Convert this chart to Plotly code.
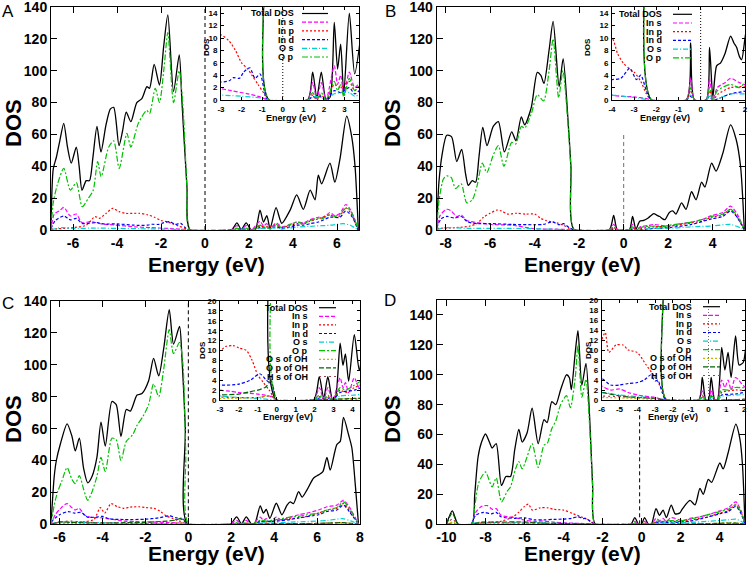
import plotly.graph_objects as go

W, H = 751, 569

# ---------------- data (energy eV, DOS) ----------------
A_total = [(-7.0,0),(-6.9,38),(-6.75,46),(-6.6,56),(-6.42,67),(-6.25,52),(-6.08,42),(-5.85,52),(-5.72,40),(-5.59,25),(-5.4,31),(-5.25,31),(-5.1,45),(-4.91,65),(-4.73,49),(-4.5,66),(-4.3,76),(-4.15,77),(-3.91,53),(-3.75,62),(-3.58,74),(-3.37,68),(-3.1,80),(-2.87,82.5),(-2.64,90),(-2.52,89),(-2.31,104),(-2.07,91),(-1.88,115),(-1.69,135),(-1.43,87),(-1.17,110),(-1.05,81),(-0.82,27),(-0.67,0),(1.2,0),(1.45,4.5),(1.65,0.3),(1.87,4.5),(2.1,0),(2.3,0.5),(2.5,12.5),(2.66,5),(2.81,9),(2.96,1),(3.23,14),(3.49,4.2),(3.87,12.5),(4.17,22),(4.47,13),(4.78,25),(5.0,19),(5.15,34.5),(5.3,29),(5.68,42),(5.9,30),(6.14,45),(6.44,71.5),(6.67,58.5),(6.82,40),(6.97,0)]
A_Ins = [(-7.0,0),(-6.85,10),(-6.62,12),(-6.42,14.2),(-6.12,8.8),(-5.85,10),(-5.59,4.6),(-5.2,5.2),(-4.7,3.8),(-4.1,3.1),(-3.2,2),(-2.5,1.5),(-1.7,1),(-1.1,0.5),(-0.7,0),(1.2,0),(1.45,2.8),(1.65,0.2),(1.87,2.8),(2.1,0),(2.5,5.5),(2.66,2.5),(2.81,4),(2.96,0.8),(3.23,4.5),(3.49,2),(3.87,3.5),(4.17,5),(4.47,4.5),(4.78,6.5),(5.15,8),(5.4,8),(5.68,11),(5.9,9),(6.14,10.5),(6.4,16),(6.6,13),(6.85,5),(6.97,0)]
A_Inp = [(-7.0,0.5),(-6.0,1.5),(-5.4,3),(-5.0,8.4),(-4.8,7.3),(-4.5,10.4),(-4.2,13.6),(-3.9,11.5),(-3.6,10.4),(-3.0,10.5),(-2.6,9.5),(-2.3,8),(-2.0,6),(-1.7,5),(-1.5,4),(-1.2,2.5),(-0.9,1),(-0.7,0),(1.2,0),(1.45,0.8),(1.65,0),(1.87,0.8),(2.1,0),(2.5,2.5),(2.81,2),(3.23,3),(3.49,1.5),(3.87,3),(4.17,4),(4.47,3.8),(4.78,5.5),(5.15,7),(5.68,9.5),(5.9,8),(6.14,9),(6.4,14),(6.65,10),(6.85,4),(6.97,0)]
A_Ind = [(-7.0,1),(-6.8,6),(-6.42,8.8),(-6.12,6.3),(-5.85,7.3),(-5.59,4.2),(-4.9,4.6),(-4.6,3.8),(-4.0,3.8),(-3.3,3.1),(-3.0,2.9),(-2.6,3.1),(-2.4,3.6),(-2.1,3.5),(-1.9,4.5),(-1.6,5.2),(-1.35,3.5),(-1.1,4.2),(-0.9,1.5),(-0.75,0),(1.2,0),(1.45,0.5),(1.87,0.5),(2.1,0),(2.5,1.5),(2.81,1.2),(3.23,2),(3.49,1),(3.87,2),(4.17,3),(4.47,3),(4.78,4),(5.15,5),(5.68,8),(6.14,8),(6.4,12),(6.7,8),(6.9,2),(6.97,0)]
A_Os = [(-7.0,0.3),(-6.5,1.5),(-6.0,1),(-5.0,1.2),(-4.0,1),(-3.0,0.8),(-2.0,0.6),(-1.0,0.3),(-0.7,0),(1.2,0),(1.45,0.5),(1.87,0.5),(2.1,0),(2.5,1),(3.23,1.2),(3.5,0.6),(4.2,1.8),(5.0,2.5),(5.7,3),(6.3,4),(6.6,3),(6.97,0)]
A_Op = [(-7.0,0),(-6.9,17),(-6.72,28),(-6.42,38.7),(-6.12,25),(-5.85,29.7),(-5.58,14.6),(-5.3,20),(-5.08,25),(-4.88,43),(-4.72,33.4),(-4.38,52),(-4.15,56),(-3.9,38.7),(-3.55,60.6),(-3.37,52),(-3.03,67),(-2.65,75),(-2.52,73),(-2.26,89),(-2.07,80),(-1.86,102),(-1.69,124),(-1.43,80),(-1.17,100),(-1.0,77),(-0.82,27),(-0.67,0),(1.2,0),(1.45,1.2),(1.65,0.1),(1.87,1.2),(2.1,0),(2.5,3),(2.66,1.5),(2.81,2.5),(2.96,0.5),(3.23,3.5),(3.49,1.5),(3.87,3.5),(4.17,5),(4.47,4),(4.78,6),(5.15,7.5),(5.3,7),(5.68,9.5),(5.9,8.5),(6.14,10),(6.44,14),(6.67,11),(6.85,5),(6.97,0)]

B_total = [(-8.4,0),(-8.3,30),(-8.15,48),(-7.95,59.5),(-7.73,58.5),(-7.5,43),(-7.28,50.6),(-7.1,35),(-6.98,28),(-6.8,31),(-6.65,30),(-6.5,46),(-6.33,64.4),(-6.14,53),(-5.86,65),(-5.63,68),(-5.36,49),(-5.03,61.6),(-4.84,56),(-4.6,71),(-4.45,66),(-4.15,77),(-3.88,99),(-3.72,97),(-3.58,92),(-3.35,113),(-3.17,131),(-2.9,90),(-2.72,107.6),(-2.52,73),(-2.37,40),(-2.22,0),(-0.65,0),(-0.45,9.2),(-0.28,0),(0.25,0),(0.4,8.5),(0.55,0.5),(0.72,5.5),(0.9,6),(1.1,7.5),(1.35,10.3),(1.5,9.2),(1.62,8.5),(1.75,7),(1.85,6.5),(2.05,11),(2.2,12),(2.35,10),(2.6,17),(2.8,13),(3.05,24),(3.25,19),(3.5,30),(3.65,27),(3.95,42),(4.15,37),(4.45,48),(4.8,66),(5.05,57),(5.25,40),(5.42,0)]
B_Ins = [(-8.4,0),(-8.25,9),(-7.95,13),(-7.75,12),(-7.5,8.5),(-7.3,9.5),(-7.05,6),(-6.5,4.5),(-6.0,3.5),(-5.0,3),(-4.0,0.8),(-3.0,0.5),(-2.4,0.2),(-2.2,0),(-0.65,0),(-0.45,3.5),(-0.28,0),(0.25,0),(0.4,3.5),(0.55,0),(0.75,2),(1.1,2.8),(1.35,3.5),(1.75,2.8),(2.05,2.5),(2.6,4),(3.05,5),(3.5,6.5),(3.95,9),(4.45,11),(4.8,15),(5.1,10),(5.42,0)]
B_Inp = [(-8.4,1),(-7.5,1.5),(-6.9,2.5),(-6.6,4),(-6.3,8),(-6.0,10.5),(-5.7,12.5),(-5.5,12),(-5.2,10),(-4.8,10.5),(-4.4,10),(-4.0,10),(-3.75,7.5),(-3.5,6),(-3.2,5),(-3.0,4.5),(-2.7,3),(-2.45,1),(-2.22,0),(-0.65,0),(-0.45,1.5),(-0.28,0),(0.25,0),(0.4,1.5),(0.55,0),(0.8,1),(1.35,2),(2.05,2.3),(2.6,3.5),(3.05,4.5),(3.5,5.5),(3.95,8),(4.45,9.5),(4.8,13),(5.1,8),(5.42,0)]
B_Ind = [(-8.4,1.5),(-8.2,7),(-7.95,8.5),(-7.6,7.5),(-7.3,8.5),(-7.0,5),(-6.5,4),(-6.0,4),(-5.0,3.5),(-4.0,3.3),(-3.6,3.5),(-3.2,5.1),(-2.9,3.3),(-2.7,4),(-2.45,1.5),(-2.22,0),(-0.65,0),(-0.45,0.6),(-0.28,0),(0.25,0),(0.4,0.6),(0.55,0),(1.35,1),(2.05,1.5),(3.05,3.5),(3.95,7),(4.45,8.5),(4.8,12),(5.1,8),(5.42,0)]
B_Os = [(-8.4,0.3),(-8.0,1.5),(-7.0,1),(-5.0,1),(-4.0,0.8),(-3.0,0.4),(-2.22,0),(-0.65,0),(-0.45,0.8),(-0.28,0),(0.25,0),(0.4,0.8),(0.55,0),(1.35,1),(2.05,1),(3.05,2),(3.95,2.5),(4.8,3.5),(5.3,1),(5.42,0)]
B_Op = [(-8.4,0),(-8.3,18),(-8.1,32),(-7.95,34),(-7.75,33),(-7.55,26),(-7.3,29),(-7.05,17),(-6.8,19),(-6.6,27),(-6.35,42),(-6.15,36),(-5.86,47),(-5.63,53),(-5.38,40),(-5.03,55),(-4.85,54),(-4.6,65),(-4.45,64),(-4.15,73),(-3.88,85),(-3.6,81),(-3.35,100),(-3.17,120),(-2.92,83),(-2.73,100),(-2.52,70),(-2.37,38),(-2.22,0),(-0.65,0),(-0.45,2),(-0.28,0),(0.25,0),(0.4,2),(0.55,0),(0.75,1.5),(1.35,2.5),(1.75,2),(2.05,3),(2.6,4),(3.05,5),(3.5,6.5),(3.95,8.5),(4.45,10),(4.8,13),(5.1,9),(5.42,0)]

C_total = [(-6.4,0),(-6.25,30),(-6.15,40),(-5.97,50),(-5.65,63),(-5.42,55),(-5.27,46),(-5.08,54),(-4.88,35),(-4.69,26),(-4.49,30),(-4.26,42),(-4.07,64),(-3.87,49),(-3.56,77),(-3.36,75),(-3.14,55),(-2.89,72),(-2.7,71),(-2.39,81),(-2.16,82),(-1.85,90),(-1.62,104),(-1.38,93),(-1.15,110),(-0.89,134.5),(-0.69,113),(-0.41,124),(-0.3,105),(-0.14,60),(-0.03,0),(1.95,0),(2.25,4.7),(2.48,0.3),(2.7,4.7),(2.95,0),(3.1,0.5),(3.35,11.5),(3.5,7),(3.63,9.3),(3.8,3.8),(4.1,13.2),(4.36,6),(4.6,12),(4.75,14),(4.9,13),(5.14,20.5),(5.3,17),(5.53,21.6),(5.84,29),(6.07,31),(6.27,33),(6.46,42),(6.61,34),(6.92,50),(7.08,52),(7.23,67),(7.47,56),(7.62,48),(7.78,25),(7.93,0)]
C_Ins = [(-6.4,0),(-6.2,6),(-5.95,10),(-5.65,13),(-5.4,10),(-5.27,9),(-5.08,10),(-4.85,6),(-4.6,4.5),(-4.0,4),(-3.0,2),(-2.5,1.8),(-2.0,1.5),(-1.0,1.2),(-0.4,0.8),(-0.1,0.3),(0.0,0),(1.95,0),(2.25,2.5),(2.48,0),(2.7,2.5),(2.95,0),(3.35,4.5),(3.5,2.5),(3.63,3.5),(3.8,1.5),(4.1,4.5),(4.36,2.5),(4.75,4.5),(5.14,6),(5.53,7),(6.07,9),(6.46,11),(6.92,12),(7.23,15),(7.5,11),(7.93,0)]
C_Inp = [(-6.4,0.5),(-5.0,1.5),(-4.4,3),(-4.1,10.5),(-3.9,7),(-3.6,13),(-3.3,11),(-3.0,10),(-2.7,10.8),(-2.3,11),(-2.0,10.5),(-1.6,10),(-1.3,8),(-1.0,5),(-0.7,3.5),(-0.4,2),(-0.15,0.5),(0.0,0),(1.95,0),(2.25,0.7),(2.48,0),(2.7,0.7),(2.95,0),(3.35,2),(3.63,1.5),(4.1,2.5),(4.75,3.5),(5.14,4),(5.53,5),(6.07,7),(6.46,9),(6.92,10),(7.23,13),(7.5,9),(7.93,0)]
C_Ind = [(-6.4,1.5),(-6.0,6),(-5.6,8),(-5.3,7),(-5.0,7.5),(-4.7,4.5),(-4.3,4.5),(-4.0,5),(-3.7,3.5),(-3.0,3),(-2.0,3.2),(-1.4,4),(-0.9,5.3),(-0.55,4),(-0.25,3),(-0.05,0),(1.95,0),(2.25,0.4),(2.7,0.4),(2.95,0),(3.35,1.5),(4.1,2),(4.75,3),(5.14,4),(6.07,6),(6.46,8),(6.92,9),(7.23,12),(7.5,8),(7.93,0)]
C_Os = [(-6.4,0.3),(-6.0,1.5),(-5.0,1.2),(-4.0,1),(-3.0,0.8),(-2.0,0.5),(-1.0,0.3),(0.0,0),(1.95,0),(2.25,0.5),(2.7,0.5),(2.95,0),(3.35,0.8),(4.1,1),(5.0,1.5),(6.0,2),(6.5,2.5),(7.2,3.5),(7.6,2),(7.93,0)]
C_Op = [(-6.4,0),(-6.25,12),(-6.1,20),(-5.9,27),(-5.65,35.5),(-5.42,28),(-5.27,25.5),(-5.08,30.5),(-4.88,22),(-4.69,15),(-4.5,20),(-4.26,30),(-4.07,42),(-3.87,33),(-3.56,54),(-3.36,53),(-3.14,40),(-2.89,52),(-2.6,56),(-2.39,62),(-2.1,68),(-1.85,75),(-1.62,88),(-1.38,80),(-1.15,97),(-0.89,122),(-0.69,107),(-0.41,114),(-0.25,100),(-0.12,45),(0.03,0),(1.95,0),(2.25,1),(2.48,0),(2.7,1),(2.95,0),(3.35,2.5),(3.63,2),(4.1,3),(4.75,4.5),(5.14,5),(5.53,6),(6.07,7),(6.46,9),(6.92,10.5),(7.23,14),(7.5,10),(7.93,0)]
C_OsOH = [(-6.4,0),(-6.0,0.5),(-5.0,0.4),(-3.0,0.3),(-1.0,0.5),(-0.3,0.8),(0.0,0),(1.95,0),(4.0,0.3),(6.0,0.6),(7.2,1),(7.93,0)]
C_OpOH = [(-6.4,0),(-6.0,1.5),(-5.5,1.2),(-5.0,1),(-4.0,0.8),(-3.0,1),(-2.0,1.2),(-1.5,1.6),(-1.0,2),(-0.6,2.6),(-0.3,3.8),(-0.15,2),(0.0,0),(1.95,0),(4.0,0.3),(6.0,0.5),(7.2,1),(7.93,0)]
C_HsOH = [(-6.4,0),(-6.0,1.5),(-5.5,2),(-5.0,1.5),(-4.0,1),(-3.0,0.6),(-2.0,0.5),(-1.0,0.5),(-0.3,0.8),(0.0,0),(1.95,0),(5.0,0.3),(7.2,0.8),(7.93,0)]

D_total = [(-10.0,0),(-9.7,9),(-9.4,0),(-8.7,0),(-8.55,20),(-8.38,45),(-8.2,55),(-8.0,60.4),(-7.8,55),(-7.66,51),(-7.45,54),(-7.18,26),(-6.95,32),(-6.72,32),(-6.5,50),(-6.29,63.5),(-6.12,55),(-5.87,61),(-5.61,77.6),(-5.3,54),(-5.0,70),(-4.84,68),(-4.6,82),(-4.4,80),(-4.15,90),(-3.85,100),(-3.7,98),(-3.6,90),(-3.4,115),(-3.26,129.5),(-3.06,93),(-2.85,107.6),(-2.66,71),(-2.51,26),(-2.37,0),(-0.55,0),(-0.35,4.5),(-0.15,0),(0.0,0),(0.15,4.5),(0.35,0),(0.5,0),(0.74,10.5),(0.92,6),(1.1,9.5),(1.27,4.5),(1.52,12.8),(1.72,7),(1.95,7.5),(2.1,10.5),(2.48,16),(2.74,13),(2.99,24),(3.16,20),(3.42,30),(3.59,28),(4.01,41),(4.18,37),(4.44,48),(4.83,67),(5.04,57),(5.17,40),(5.3,0)]
D_Ins = [(-8.7,0),(-8.5,8),(-8.2,12),(-7.9,12.5),(-7.65,10),(-7.45,10.5),(-7.2,6),(-6.5,4.5),(-6.0,2.8),(-5.5,2),(-5.0,2.2),(-4.5,1.5),(-4.0,1),(-3.0,0.5),(-2.4,0),(-0.55,0),(-0.35,2),(-0.15,0),(0.0,0),(0.15,2),(0.35,0),(0.5,0),(0.74,4),(0.92,2.5),(1.1,4),(1.27,2),(1.52,4.5),(2.1,2.5),(2.48,4),(2.99,5),(3.42,6.5),(4.01,9),(4.44,11),(4.83,15),(5.1,9),(5.3,0)]
D_Inp = [(-8.7,0.5),(-7.2,2),(-6.6,5),(-6.3,8),(-6.0,12),(-5.8,13.5),(-5.6,9.5),(-5.2,11),(-4.8,11),(-4.5,10),(-4.0,9.5),(-3.5,7),(-3.0,4.5),(-2.6,2),(-2.35,0),(-0.55,0),(-0.35,0.8),(-0.15,0),(0.0,0),(0.15,0.8),(0.35,0),(0.5,0),(0.74,1.5),(1.52,2),(2.1,2),(2.99,4),(3.42,5),(4.01,7.5),(4.44,9),(4.83,13),(5.1,8),(5.3,0)]
D_Ind = [(-8.7,0.5),(-8.5,6),(-8.1,8),(-7.7,7),(-7.45,8),(-7.2,5),(-6.5,4),(-6.0,4.3),(-5.5,3),(-5.0,3),(-4.5,3.3),(-4.0,3.5),(-3.6,4),(-3.25,5),(-3.0,3.8),(-2.85,4),(-2.6,1.5),(-2.4,0),(-0.55,0),(-0.35,0.5),(-0.15,0),(0.0,0),(0.15,0.5),(0.35,0),(0.5,0),(0.74,1),(1.52,1.2),(2.48,2),(2.99,3.5),(4.01,7),(4.44,8.5),(4.83,12),(5.1,7),(5.3,0)]
D_Os = [(-8.7,0.3),(-8.3,1.5),(-7.0,1),(-6.0,1.5),(-5.0,1),(-4.0,0.7),(-3.0,0.4),(-2.4,0),(-0.55,0),(-0.35,0.5),(-0.15,0),(0.0,0),(0.15,0.5),(0.35,0),(0.5,0),(0.74,0.7),(1.52,1),(2.48,1.2),(3.42,2),(4.44,3),(4.83,3.5),(5.1,2),(5.3,0)]
D_Op = [(-10.0,0),(-9.7,1),(-9.4,0),(-8.7,0),(-8.55,12),(-8.34,28),(-8.0,35),(-7.66,25),(-7.45,31),(-7.18,15),(-6.89,22),(-6.72,25),(-6.46,37),(-6.29,42),(-6.12,37),(-5.87,45),(-5.61,54),(-5.3,38),(-5.0,53),(-4.84,54),(-4.6,64),(-4.4,69),(-4.15,80),(-3.85,86),(-3.65,78),(-3.4,98),(-3.26,120),(-3.06,85),(-2.85,97),(-2.66,65),(-2.51,26),(-2.37,0),(-0.55,0),(-0.35,1),(-0.15,0),(0.0,0),(0.15,1),(0.35,0),(0.5,0),(0.74,2),(1.1,2),(1.52,2.5),(2.1,2.5),(2.48,3.5),(2.99,5),(3.42,6.5),(4.01,8.5),(4.44,10),(4.83,13),(5.1,8),(5.3,0)]
D_OsOH = [(-10.0,0),(-9.7,1.5),(-9.4,0),(-8.7,0),(-8.0,0.5),(-6.0,0.5),(-4.0,0.3),(-2.4,0),(1.0,0),(3.0,0.3),(4.83,1),(5.3,0)]
D_OpOH = [(-10.0,0),(-9.7,7.5),(-9.4,0),(-8.7,0),(-8.3,1.2),(-7.5,1.5),(-6.0,1.5),(-5.0,0.8),(-4.0,0.5),(-3.0,0.3),(-2.4,0),(1.0,0),(3.0,0.3),(4.83,0.8),(5.3,0)]
D_HsOH = [(-10.0,0),(-9.7,3.5),(-9.4,0),(-8.7,0),(-8.0,1),(-6.0,0.8),(-4.0,0.5),(-3.0,0.3),(-2.4,0),(1.0,0),(4.83,0.5),(5.3,0)]

# Fermi-level markers: (energy, top DOS) for main panels and insets
fermi_main = {'A': (0.0, 140), 'B': (0.0, 60), 'C': (0.0, 140), 'D': (-0.1, 75)}
fermi_inset = {'A': (0.0, 15), 'B': (0.0, 15), 'D': (0.0, 20)}

series_names = ['Total DOS', 'In s', 'In p', 'In d', 'O s', 'O p', 'O s of OH', 'O p of OH', 'H s of OH']
panel_series = {
    'A': [A_total, A_Ins, A_Inp, A_Ind, A_Os, A_Op],
    'B': [B_total, B_Ins, B_Inp, B_Ind, B_Os, B_Op],
    'C': [C_total, C_Ins, C_Inp, C_Ind, C_Os, C_Op, C_OsOH, C_OpOH, C_HsOH],
    'D': [D_total, D_Ins, D_Inp, D_Ind, D_Os, D_Op, D_OsOH, D_OpOH, D_HsOH],
}

main_xticks = {'A': [-6, -4, -2, 0, 2, 4, 6], 'B': [-8, -6, -4, -2, 0, 2, 4],
               'C': [-6, -4, -2, 0, 2, 4, 6, 8], 'D': [-10, -8, -6, -4, -2, 0, 2, 4]}
main_yticks = [0, 20, 40, 60, 80, 100, 120, 140]
inset_xticks = {'A': [-3, -2, -1, 0, 1, 2, 3], 'B': [-4, -3, -2, -1, 0, 1, 2],
                'C': [-3, -2, -1, 0, 1, 2, 3, 4], 'D': [-6, -5, -4, -3, -2, -1, 0, 1, 2]}
inset_yticks = {'A': [0, 2, 4, 6, 8, 10, 12, 14], 'B': [0, 2, 4, 6, 8, 10, 12, 14],
                'C': [0, 2, 4, 6, 8, 10, 12, 14, 16, 18, 20], 'D': [0, 2, 4, 6, 8, 10, 12, 14, 16, 18, 20]}
main_xrange = {'A': [-7, 7], 'B': [-8.4, 5.45], 'C': [-6.4, 8], 'D': [-10.5, 5.3]}
main_yrange = {'A': [0, 140], 'B': [0, 140], 'C': [0, 140], 'D': [0, 150]}
inset_xrange = {'A': [-3, 3.7], 'B': [-4, 2], 'C': [-3, 4.4], 'D': [-6, 2.05]}
inset_yrange = {'A': [0, 15], 'B': [0, 15], 'C': [0, 20], 'D': [0, 20]}

# ---------------- styling / layout ----------------
FONT = "Liberation Sans, Arial, sans-serif"
styles = {
    'Total DOS': dict(color='#000000', dash='solid', width=1.3),
    'In s': dict(color='#ff00ff', dash='4px,2px', width=1.2),
    'In p': dict(color='#ff0000', dash='2px,2px', width=1.2),
    'In d': dict(color='#0000ff', dash='3px,2px', width=1.2),
    'O s': dict(color='#00d0d0', dash='5px,2px,1px,2px', width=1.2),
    'O p': dict(color='#00c000', dash='6px,2px,2px,2px', width=1.2),
    'O s of OH': dict(color='#c8b400', dash='2px,2px', width=1.2),
    'O p of OH': dict(color='#006400', dash='5px,2px', width=1.2),
    'H s of OH': dict(color='#a03c50', dash='2px,3px', width=1.2),
}

def px(x):
    return x / W

def py(y):
    return 1 - y / H

# pixel geometry of each panel: main box (x0,x1,ytop,ybot), inset box
geom = {
    'A': dict(main=(51, 359, 7, 230), inset=(221, 359, 7, 100), ax=(1, 5),
              letter=(8, 12), ytitle=(13, 123), xtitle=(206.7, 264),
              iytitle=(207, 47), ixtitle=(291, 118), leg=(296, 302, 328, 13.5, 8.7)),
    'B': dict(main=(436.7, 745, 7, 230), inset=(612, 745, 7, 100), ax=(2, 6),
              letter=(390, 12), ytitle=(392, 123), xtitle=(582.5, 264),
              iytitle=(588, 47), ixtitle=(665, 118), leg=(664, 673, 692, 14.3, 8.7)),
    'C': dict(main=(51, 360, 301, 524.3), inset=(220, 360, 301, 400), ax=(3, 7),
              letter=(8, 303), ytitle=(13, 419), xtitle=(206.7, 553),
              iytitle=(202, 350), ixtitle=(288, 416.5), leg=(310, 319, 336, 307.7, 8.6)),
    'D': dict(main=(436.7, 745, 300, 524.3), inset=(601.7, 745, 300, 400), ax=(4, 8),
              letter=(390, 300), ytitle=(392, 419), xtitle=(582.5, 553),
              iytitle=(588, 350), ixtitle=(673, 416.5), leg=(694, 703, 720, 306.7, 8.6)),
}

fig = go.Figure()
layout = dict(width=W, height=H, margin=dict(l=0, r=0, t=0, b=0, autoexpand=False),
              paper_bgcolor='white', plot_bgcolor='white', showlegend=False)
annotations = []
shapes = []

def axname(n, kind):
    return kind if n == 1 else f"{kind}{n}"

def base_axis(size, ticklen):
    return dict(showline=True, linecolor='black', linewidth=1, mirror='ticks',
                ticks='inside', ticklen=ticklen, tickwidth=1, tickcolor='black',
                showgrid=False, zeroline=False, ticklabeloverflow='allow',
                tickfont=dict(family=FONT, size=size, color='black', weight='bold'))

def label(text, x, y, size, angle=0, weight='bold', xanchor='center'):
    annotations.append(dict(text=text, x=px(x), y=py(y), xref='paper', yref='paper',
                            xanchor=xanchor, yanchor='middle', textangle=angle, showarrow=False,
                            font=dict(family=FONT, size=size, color='black', weight=weight)))

for key, g in geom.items():
    nm, ni = g['ax']
    x0, x1, yt, yb = g['main']
    xa = base_axis(14, 6)
    xa.update(domain=[px(x0), px(x1)], range=main_xrange[key], anchor=axname(nm, 'y'),
              tickmode='array', tickvals=main_xticks[key],
              ticktext=[str(v) for v in main_xticks[key]])
    ya = base_axis(14, 6)
    ya.update(domain=[py(yb), py(yt)], range=main_yrange[key], anchor=axname(nm, 'x'),
              tickmode='array', tickvals=main_yticks, ticktext=[str(v) for v in main_yticks])
    layout[axname(nm, 'xaxis')] = xa
    layout[axname(nm, 'yaxis')] = ya
    ix0, ix1, iyt, iyb = g['inset']
    xi = base_axis(8, 3)
    xi.update(domain=[px(ix0), px(ix1)], range=inset_xrange[key], anchor=axname(ni, 'y'),
              tickmode='array', tickvals=inset_xticks[key],
              ticktext=[str(v) for v in inset_xticks[key]], ticklabelstandoff=1)
    yi = base_axis(8, 3)
    yi.update(domain=[py(iyb), py(iyt)], range=inset_yrange[key], anchor=axname(ni, 'x'),
              tickmode='array', tickvals=inset_yticks[key],
              ticktext=[str(v) for v in inset_yticks[key]], ticklabelstandoff=1)
    layout[axname(ni, 'xaxis')] = xi
    layout[axname(ni, 'yaxis')] = yi

    ef, top = fermi_main[key]
    fig.add_trace(go.Scatter(x=[ef, ef], y=[0, top], mode='lines',
                             line=dict(color='#707070' if key == 'B' else 'black', width=1, dash='4px,3px'),
                             xaxis=axname(nm, 'x'), yaxis=axname(nm, 'y'), hoverinfo='skip'))
    if key in fermi_inset:
        ef, top = fermi_inset[key]
        fig.add_trace(go.Scatter(x=[ef, ef], y=[0, top], mode='lines',
                                 line=dict(color='#707070' if key == 'D' else 'black', width=1, dash='1px,2px'),
                                 xaxis=axname(ni, 'x'), yaxis=axname(ni, 'y'), hoverinfo='skip'))

    data = panel_series[key]
    for i, pts in enumerate(data):
        st = styles[series_names[i]]
        xs = [p[0] for p in pts]
        ys = [p[1] for p in pts]
        for n in (nm, ni):
            fig.add_trace(go.Scatter(x=xs, y=ys, mode='lines', name=series_names[i],
                                     line=dict(color=st['color'], width=st['width'], dash=st['dash'],
                                               shape='spline', smoothing=0.7),
                                     xaxis=axname(n, 'x'), yaxis=axname(n, 'y'), hoverinfo='skip'))

    label(key, *g['letter'], 17, weight='normal')
    label('DOS', *g['ytitle'], 22, angle=-90)
    label('Energy (eV)', *g['xtitle'], 21)
    label('DOS', *g['iytitle'], 8, angle=-90)
    label('Energy (eV)', *g['ixtitle'], 9)
    tr, s0, s1, r0, dr = g['leg']
    for i in range(len(data)):
        yy = r0 + dr * i
        st = styles[series_names[i]]
        label(series_names[i], tr, yy, 9, xanchor='right')
        shapes.append(dict(type='line', xref='paper', yref='paper', x0=px(s0), x1=px(s1),
                           y0=py(yy), y1=py(yy),
                           line=dict(color=st['color'], width=1.2, dash=st['dash'])))

layout['annotations'] = annotations
layout['shapes'] = shapes
fig.update_layout(**layout)
fig.write_html("out.html", config={'displayModeBar': False},
               post_script="document.body.style.margin='0px';document.body.style.padding='0px';")
